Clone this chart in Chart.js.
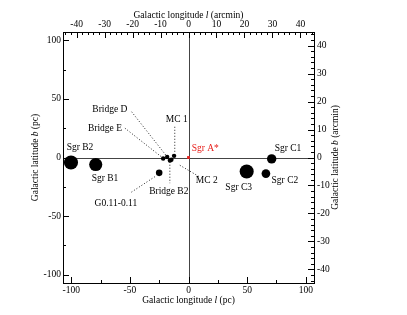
<!DOCTYPE html>
<html>
<head>
<meta charset="utf-8">
<script src="https://cdn.jsdelivr.net/npm/chart.js@4"></script>
<style>
  html, body { margin: 0; padding: 0; background: #fff; }
  #wrap { width: 407px; height: 315px; }
</style>
</head>
<body>
<div id="wrap"><canvas id="gcChart"></canvas></div>
<script>
// conversion between pc and arcmin at the Galactic centre distance
const PC_PER_ARCMIN = 2.385;
const PC_MIN = -107, PC_MAX = 107;

// tick labels
const pcTicks = [-100, -50, 0, 50, 100];
const pcMinorTicks = [-75, -25, 25, 75];
const arcTicks = [-40, -30, -20, -10, 0, 10, 20, 30, 40];

// molecular clouds (pc)
const cloudNames = ['Sgr B2', 'Sgr B1', 'Bridge E', 'Bridge D', 'Bridge B2', 'MC 2', 'MC 1', 'G0.11-0.11', 'Sgr C3', 'Sgr C2', 'Sgr C1'];
const cloudLon = [-100.2, -79.1, -21.6, -18.2, -15.8, -14.6, -12.3, -25.0, 49.6, 66.0, 70.9];
const cloudLat = [-4.2, -6.0, -0.9, 0.5, -2.6, -2.0, 1.4, -13.1, -12.0, -13.7, -1.2];
const cloudRadius = [6.0, 5.6, 1.9, 1.9, 1.9, 1.9, 1.9, 2.8, 6.0, 3.7, 4.0];

// Sgr A*
const sgrAName = 'Sgr A*';
const sgrALon = [0];
const sgrALat = [0];

// label anchors (pc) and dotted leaders [from lon, from lat, to lon, to lat]
const labelLon = [-92.5, -71.2, -71.2, -67.0, -16.8, 15.6, -10.0, -61.9, 42.8, 82.2, 84.8];
const labelLat = [8.8, -17.6, 25.0, 41.3, -28.7, -19.4, 32.7, -38.9, -26.0, -19.4, 7.9];
const sgrALabel = [14.3, 7.9];
const leaders = {
    'Bridge D': [-48.5, 39, -19.3, 2],
    'Bridge E': [-54.2, 25, -23, 0.5],
    'MC 1': [-11.7, 26.2, -11.7, 3.7],
    'Bridge B2': [-15.9, -3.6, -15.9, -21.9],
    'MC 2': [-7.4, -6.6, 9.6, -16.6],
    'G0.11-0.11': [-28.7, -16.4, -50, -30.4]
};

const FONT = '"Liberation Serif", "DejaVu Serif", serif';

function fixedTicks(values) {
    return (scale) => { scale.ticks = values.map(v => ({ value: v })); };
}

function pxPerPc(chart) {
    const x = chart.scales.x;
    return Math.abs(x.getPixelForValue(1) - x.getPixelForValue(0));
}

// draws text pieces like ['Galactic longitude ', {i:'l'}, ' (pc)'] centred on 0,0
function drawMixed(ctx, parts, size) {
    ctx.textAlign = 'left';
    ctx.textBaseline = 'middle';
    const fontFor = p => (typeof p === 'string' ? '' : 'italic ') + size + 'px ' + FONT;
    const textOf = p => (typeof p === 'string' ? p : p.i);
    const widths = parts.map(p => { ctx.font = fontFor(p); return ctx.measureText(textOf(p)).width; });
    let xx = -widths.reduce((a, b) => a + b, 0) / 2;
    parts.forEach((p, k) => {
        ctx.font = fontFor(p);
        ctx.fillText(textOf(p), xx, 0);
        xx += widths[k];
    });
}

const decorPlugin = {
    id: 'decor',
    beforeDatasetsDraw(chart) {
        const { ctx, chartArea: { top, bottom, left, right }, scales: { x, y } } = chart;
        ctx.save();
        ctx.strokeStyle = '#444';
        ctx.lineWidth = 1;
        ctx.beginPath();
        const x0 = Math.round(x.getPixelForValue(0)) + 0.5;
        const y0 = Math.round(y.getPixelForValue(0)) + 0.5;
        ctx.moveTo(x0, top); ctx.lineTo(x0, bottom);
        ctx.moveTo(left, y0); ctx.lineTo(right, y0);
        ctx.stroke();
        ctx.restore();
    },
    afterDraw(chart) {
        const { ctx, chartArea: { top, bottom, left, right }, scales } = chart;
        const { x, y, x2, y2 } = scales;
        ctx.save();
        ctx.strokeStyle = '#000';
        ctx.lineWidth = 1;
        ctx.beginPath();
        // inward ticks
        const tickX = (px, len, atTop) => {
            px = Math.round(px) + 0.5;
            if (atTop) { ctx.moveTo(px, top); ctx.lineTo(px, top + len); }
            else { ctx.moveTo(px, bottom); ctx.lineTo(px, bottom - len); }
        };
        const tickY = (py, len, atLeft) => {
            py = Math.round(py) + 0.5;
            if (atLeft) { ctx.moveTo(left, py); ctx.lineTo(left + len, py); }
            else { ctx.moveTo(right, py); ctx.lineTo(right - len, py); }
        };
        pcTicks.forEach(v => { tickX(x.getPixelForValue(v), 6, false); tickY(y.getPixelForValue(v), 6, true); });
        pcMinorTicks.forEach(v => { tickX(x.getPixelForValue(v), 3, false); tickY(y.getPixelForValue(v), 3, true); });
        for (let a = -44; a <= 44; a += 2) {
            const len = a % 10 === 0 ? 6 : 3;
            tickX(x2.getPixelForValue(a), len, true);
            tickY(y2.getPixelForValue(a), len, false);
        }
        ctx.stroke();

        // dotted leaders
        ctx.setLineDash([1, 2]);
        ctx.strokeStyle = '#222';
        ctx.beginPath();
        Object.values(leaders).forEach(l => {
            ctx.moveTo(x.getPixelForValue(l[0]), y.getPixelForValue(l[1]));
            ctx.lineTo(x.getPixelForValue(l[2]), y.getPixelForValue(l[3]));
        });
        ctx.stroke();
        ctx.setLineDash([]);

        // cloud labels
        ctx.textAlign = 'center';
        ctx.textBaseline = 'middle';
        ctx.font = '9.5px ' + FONT;
        ctx.fillStyle = '#000';
        cloudNames.forEach((n, i) => {
            ctx.fillText(n, x.getPixelForValue(labelLon[i]), y.getPixelForValue(labelLat[i]));
        });
        ctx.fillStyle = '#e8201c';
        ctx.fillText(sgrAName, x.getPixelForValue(sgrALabel[0]), y.getPixelForValue(sgrALabel[1]));

        // axis titles
        ctx.fillStyle = '#000';
        const cx = (left + right) / 2, cy = (top + bottom) / 2;
        ctx.save(); ctx.translate(cx, top - 17);
        drawMixed(ctx, ['Galactic longitude ', { i: 'l' }, ' (arcmin)'], 9.5); ctx.restore();
        ctx.save(); ctx.translate(cx, bottom + 17);
        drawMixed(ctx, ['Galactic longitude ', { i: 'l' }, ' (pc)'], 9.5); ctx.restore();
        ctx.save(); ctx.translate(left - 28, cy); ctx.rotate(-Math.PI / 2);
        drawMixed(ctx, ['Galactic latitude ', { i: 'b' }, ' (pc)'], 9.5); ctx.restore();
        ctx.save(); ctx.translate(right + 21, cy); ctx.rotate(-Math.PI / 2);
        drawMixed(ctx, ['Galactic latitude ', { i: 'b' }, ' (arcmin)'], 9.5); ctx.restore();
        ctx.restore();
    }
};

const axisTicks = { color: '#000', font: { family: FONT, size: 9.5 } };
const noGrid = { display: false, drawTicks: false };
const frame = { display: true, color: '#000', width: 1 };

new Chart(document.getElementById('gcChart').getContext('2d'), {
    type: 'scatter',
    data: {
        datasets: [{
            data: cloudLon.map((l, i) => ({ x: l, y: cloudLat[i] })),
            backgroundColor: '#000',
            borderWidth: 0,
            pointRadius: (c) => cloudRadius[c.dataIndex] * pxPerPc(c.chart),
            xAxisID: 'x', yAxisID: 'y'
        }, {
            data: sgrALon.map((l, i) => ({ x: l, y: sgrALat[i] })),
            backgroundColor: '#e8201c',
            borderWidth: 0,
            pointStyle: 'rect',
            pointRadius: 2,
            xAxisID: 'x', yAxisID: 'y'
        }]
    },
    options: {
        responsive: true,
        maintainAspectRatio: false,
        animation: false,
        events: [],
        layout: { padding: 0 },
        plugins: { legend: { display: false }, tooltip: { enabled: false } },
        scales: {
            x: {
                type: 'linear', position: 'bottom', min: PC_MIN, max: PC_MAX,
                afterBuildTicks: fixedTicks(pcTicks),
                afterFit: (s) => { s.height = 32; },
                grid: noGrid, border: frame,
                ticks: { ...axisTicks, padding: 2, maxRotation: 0 }
            },
            x2: {
                type: 'linear', position: 'top',
                min: PC_MIN / PC_PER_ARCMIN, max: PC_MAX / PC_PER_ARCMIN,
                afterBuildTicks: fixedTicks(arcTicks),
                afterFit: (s) => { s.height = 32; },
                grid: noGrid, border: frame,
                ticks: { ...axisTicks, padding: 2, maxRotation: 0 }
            },
            y: {
                type: 'linear', position: 'left', min: PC_MIN, max: PC_MAX,
                afterBuildTicks: fixedTicks(pcTicks),
                afterFit: (s) => { s.width = 63; },
                grid: noGrid, border: frame,
                ticks: { ...axisTicks, padding: 2 }
            },
            y2: {
                type: 'linear', position: 'right',
                min: PC_MIN / PC_PER_ARCMIN, max: PC_MAX / PC_PER_ARCMIN,
                afterBuildTicks: fixedTicks(arcTicks),
                afterFit: (s) => { s.width = 93; },
                grid: noGrid, border: frame,
                ticks: { ...axisTicks, padding: 3 }
            }
        }
    },
    plugins: [decorPlugin]
});
</script>
</body>
</html>
